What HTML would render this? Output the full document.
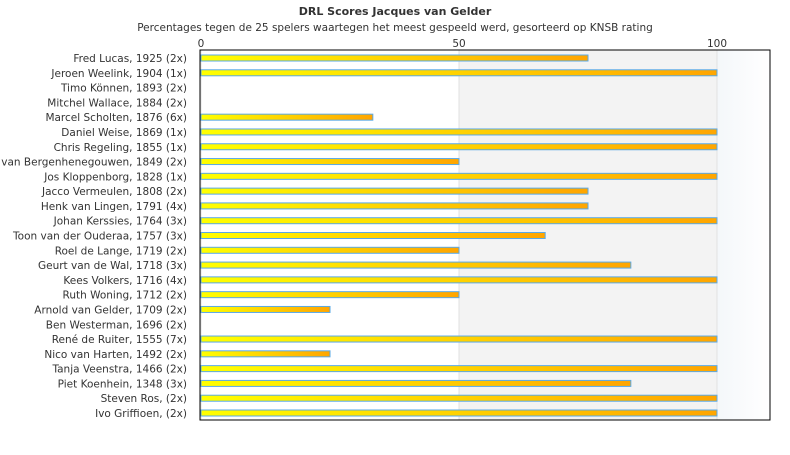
<!DOCTYPE html>
<html><head><meta charset="utf-8"><style>
body{margin:0;background:#fff;}
svg text{font-family:"DejaVu Sans","Liberation Sans",sans-serif;fill:#333;}
</style></head><body>
<svg width="790" height="450" xmlns="http://www.w3.org/2000/svg">
<defs>
<linearGradient id="bg100" x1="0" x2="1"><stop offset="0" stop-color="#f4f7fa"/><stop offset="1" stop-color="#ffffff"/></linearGradient>
</defs>
<text x="395" y="15" text-anchor="middle" font-size="11" font-weight="bold">DRL Scores Jacques van Gelder</text>
<text x="395" y="31" text-anchor="middle" font-size="10.5">Percentages tegen de 25 spelers waartegen het meest gespeeld werd, gesorteerd op KNSB rating</text>
<g id="plot"></g>
</svg>
<script>
const players=["Fred Lucas, 1925 (2x)","Jeroen Weelink, 1904 (1x)","Timo Können, 1893 (2x)","Mitchel Wallace, 1884 (2x)","Marcel Scholten, 1876 (6x)","Daniel Weise, 1869 (1x)","Chris Regeling, 1855 (1x)","van Bergenhenegouwen, 1849 (2x)","Jos Kloppenborg, 1828 (1x)","Jacco Vermeulen, 1808 (2x)","Henk van Lingen, 1791 (4x)","Johan Kerssies, 1764 (3x)","Toon van der Ouderaa, 1757 (3x)","Roel de Lange, 1719 (2x)","Geurt van de Wal, 1718 (3x)","Kees Volkers, 1716 (4x)","Ruth Woning, 1712 (2x)","Arnold van Gelder, 1709 (2x)","Ben Westerman, 1696 (2x)","René de Ruiter, 1555 (7x)","Nico van Harten, 1492 (2x)","Tanja Veenstra, 1466 (2x)","Piet Koenhein, 1348 (3x)","Steven Ros,  (2x)","Ivo Griffioen,  (2x)"];
const scores=[75,100,0,0,33.3,100,100,50,100,75,75,100,66.7,50,83.3,100,50,25,0,100,25,100,83.3,100,100];
const ticks=[0,50,100];
const NS="http://www.w3.org/2000/svg";
const g=document.getElementById('plot');
const L=200,R=770,T=50,B=420,x0=201,perUnit=5.16;
const xs=v=>x0+v*perUnit;
const ys=i=>58+i*(355/24);
function mk(tag,attrs){const e=document.createElementNS(NS,tag);for(const k in attrs)e.setAttribute(k,attrs[k]);g.appendChild(e);return e;}
let r=mk('rect',{x:xs(50),y:T,width:xs(100)-xs(50),height:B-T,fill:'#f3f3f3'});


r=mk('rect',{x:xs(100),y:T,width:R-xs(100),height:B-T,fill:'url(#bg100)'});


ticks.forEach(t=>{
 const l=mk('line',{x1:xs(t),x2:xs(t),y1:T,y2:B,stroke:'#e2e2e2'});
 
 
 const tx=mk('text',{x:xs(t),y:47,'text-anchor':'middle','font-size':10.5});
 tx.textContent=t;
 
 
});
players.forEach((p,i)=>{
 const y=ys(i);
 const tx=mk('text',{x:187,y:y+4,'text-anchor':'end','font-size':10.5});
 tx.textContent=p;
 
 
 const v=scores[i];
 if(v>0){
  const id='gr'+i;
  const lg=document.createElementNS(NS,'linearGradient');
  lg.setAttribute('id',id);lg.setAttribute('x1','0');lg.setAttribute('x2','1');
  lg.innerHTML='<stop offset="0" stop-color="#ffff00"/><stop offset="1" stop-color="#ffa500"/>';
  document.querySelector('defs').appendChild(lg);
  const b=mk('rect',{x:xs(0),y:y-3,width:xs(v)-xs(0),height:6,fill:'url(#'+id+')',stroke:'#5aa9e6','stroke-width':1});
  
  
 }
});
r=mk('rect',{x:L,y:T,width:R-L,height:B-T,fill:'none',stroke:'#000','stroke-width':1});


</script>
</body></html>
